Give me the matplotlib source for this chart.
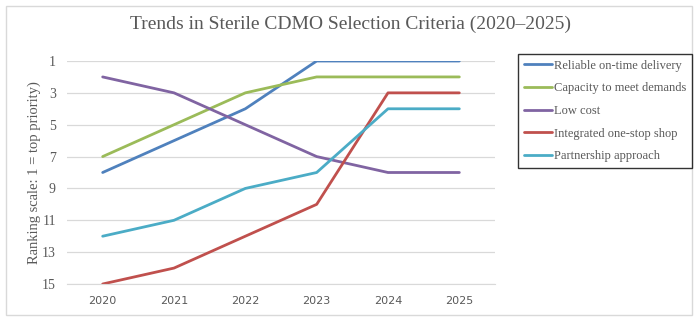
import matplotlib.pyplot as plt
from matplotlib.patches import Rectangle

years = ["2020", "2021", "2022", "2023", "2024", "2025"]
series_names = [
    "Reliable on-time delivery",
    "Capacity to meet demands",
    "Low cost",
    "Integrated one-stop shop",
    "Partnership approach",
]
reliable = [8, 6, 4, 1, 1, 1]
capacity = [7, 5, 3, 2, 2, 2]
low_cost = [2, 3, 5, 7, 8, 8]
integrated = [15, 14, 12, 10, 3, 3]
partnership = [12, 11, 9, 8, 4, 4]
y_ticks = [1, 3, 5, 7, 9, 11, 13, 15]

colors = ["#4F81BD", "#9BBB59", "#8064A2", "#C0504D", "#4BACC6"]
serif = ["Liberation Serif", "DejaVu Serif"]
grey = "#595959"

fig = plt.figure(figsize=(6.99, 3.22), dpi=100)
W, H = 699, 322
# outer chart border
fig.patches.append(Rectangle((6 / W, 1 - 315 / H), 686 / W, 309 / H,
                             transform=fig.transFigure, fill=False,
                             edgecolor="#D9D9D9", lw=1))

ax = fig.add_axes([67 / W, 1 - 284 / H, (495 - 67) / W, (284 - 61) / H])
x = range(len(years))
for name, vals, c in zip(series_names,
                         [reliable, capacity, low_cost, integrated, partnership],
                         colors):
    ax.plot(x, vals, color=c, lw=2.0, label=name, solid_capstyle="round")

ax.set_xlim(-0.5, len(years) - 0.5)
ax.set_ylim(15, 1)
ax.set_yticks(y_ticks)
ax.set_yticklabels([str(t) for t in y_ticks], fontfamily=serif, fontsize=10, color=grey)
ax.set_xticks(list(x))
ax.set_xticklabels(years, fontsize=8, color=grey)
ax.grid(axis="y", color="#D9D9D9", lw=0.9)
ax.set_axisbelow(True)
for s in ["top", "right", "left"]:
    ax.spines[s].set_visible(False)
ax.spines["bottom"].set_color("#D9D9D9")
ax.tick_params(length=0, pad=8)
ax.tick_params(axis="x", pad=9)
ax.set_ylabel("Ranking scale: 1 = top priority)", fontfamily=serif, fontsize=10.5,
              color=grey, labelpad=1)

fig.text(350 / W, 1 - 24 / H, "Trends in Sterile CDMO Selection Criteria (2020\u20132025)",
         ha="center", va="center", fontfamily=serif, fontsize=14, color=grey)

leg = fig.legend(loc="upper left", bbox_to_anchor=(518 / W, 1 - 54 / H),
                 prop={"family": serif, "size": 9}, frameon=True, fancybox=False,
                 handlelength=2.3, handletextpad=0.15, borderpad=0.45,
                 labelspacing=0.85, borderaxespad=0)
leg.get_frame().set_edgecolor("black")
leg.get_frame().set_linewidth(1.0)
for t in leg.get_texts():
    t.set_color(grey)

fig.savefig("out.png", dpi=100)
